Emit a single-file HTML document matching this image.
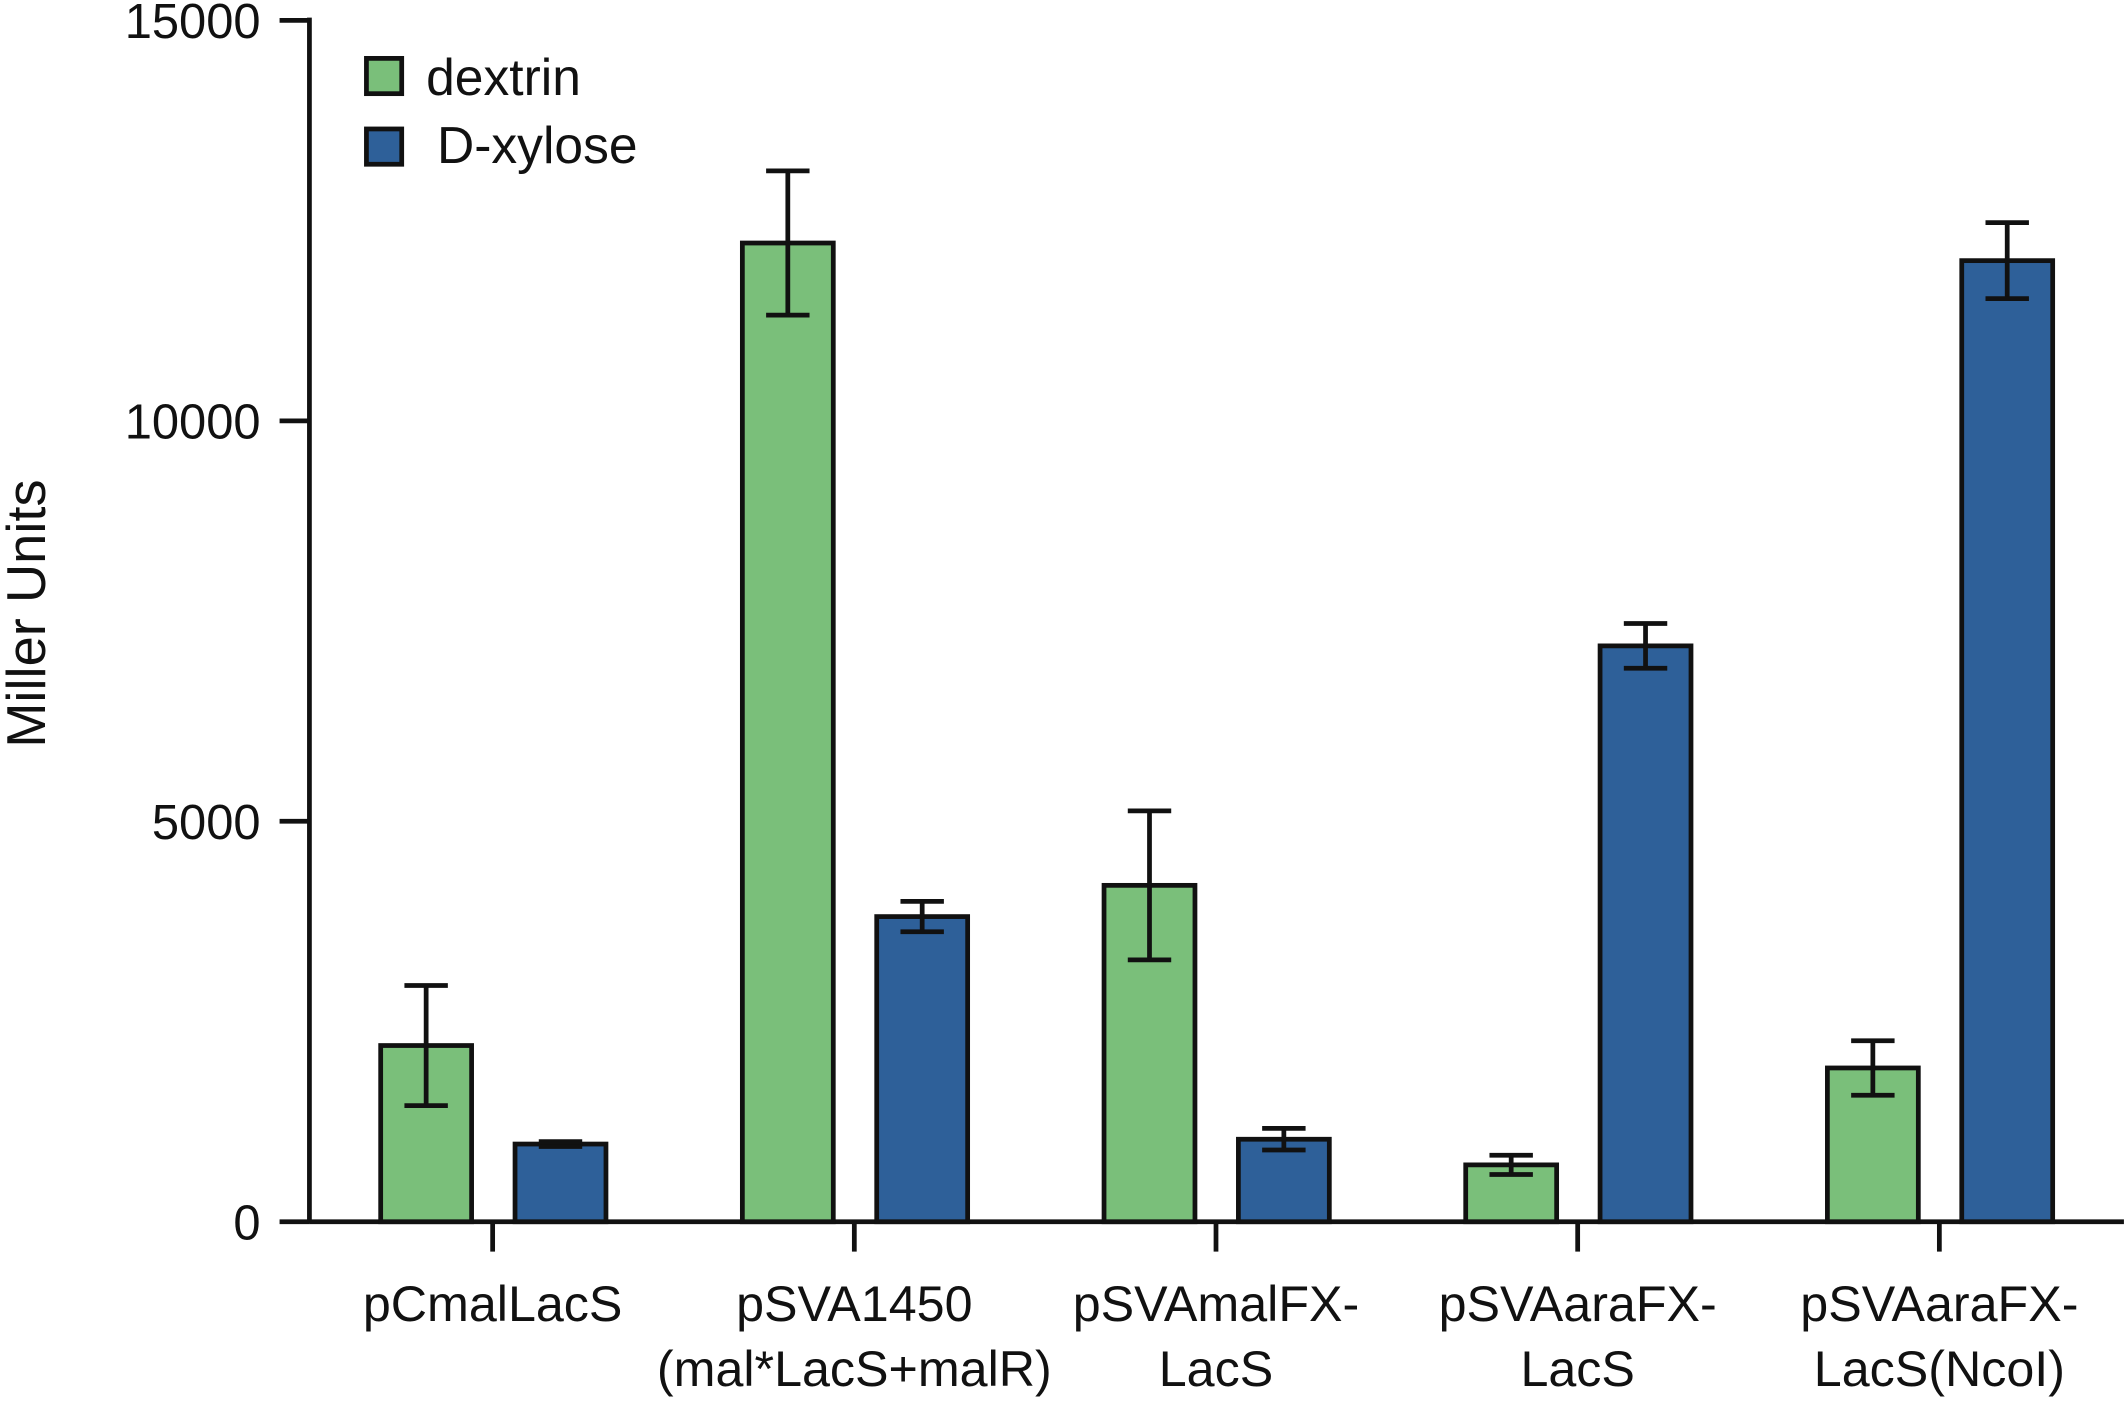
<!DOCTYPE html>
<html><head><meta charset="utf-8"><style>
html,body{margin:0;padding:0;background:#fff;}
svg{display:block;font-family:"Liberation Sans",sans-serif;}
</style></head><body>
<svg id="chart" width="2128" height="1405" viewBox="0 0 1568 1035" preserveAspectRatio="none" xmlns="http://www.w3.org/2000/svg">
<g id="axes"></g>
<g id="bars"></g>
<g id="legend">
 <rect x="270" y="43" width="26" height="26" fill="#7abf7a" stroke="#111" stroke-width="3.5"/>
 <text x="314" y="70" font-size="38" fill="#111">dextrin</text>
 <rect x="270" y="95" width="26" height="26" fill="#2e6099" stroke="#111" stroke-width="3.5"/>
 <text x="322" y="120" font-size="38" fill="#111">D-xylose</text>
</g>
<text transform="translate(33,452) rotate(-90)" text-anchor="middle" font-size="40" fill="#111">Miller Units</text>
</svg>
<script>
const categories=[["pCmalLacS"],["pSVA1450","(mal*LacS+malR)"],["pSVAmalFX-","LacS"],["pSVAaraFX-","LacS"],["pSVAaraFX-","LacS(NcoI)"]];
const dextrin=[2200,12220,4200,710,1920];
const dextrinErr=[750,900,930,120,340];
const xylose=[970,3810,1030,7190,12000];
const xyloseErr=[30,190,135,280,475];
const yTicks=[0,5000,10000,15000];
const NS="http://www.w3.org/2000/svg";
const x0=228,x1=1565,y0=900,yTop=15;
const y=v=>y0-(v/15000)*(y0-yTop);
const cx=i=>363+i*266.5;
function mk(tag,attrs,parent){const e=document.createElementNS(NS,tag);for(const k in attrs)e.setAttribute(k,attrs[k]);parent.appendChild(e);return e;}
const axes=document.getElementById('axes'),bars=document.getElementById('bars');
let ln=mk('line',{x1:x0,y1:yTop-2,x2:x0,y2:y0+1,stroke:'#111','stroke-width':3.5},axes);


ln=mk('line',{x1:x0,y1:y0,x2:x1,y2:y0,stroke:'#111','stroke-width':3.5},axes);


yTicks.forEach(t=>{
 const tk=mk('line',{x1:x0-22,y1:y(t),x2:x0,y2:y(t),stroke:'#111','stroke-width':3.5},axes);
 
 
 const tx=mk('text',{x:x0-36,y:y(t)+13,'text-anchor':'end','font-size':36,fill:'#111'},axes);
 tx.textContent=t;
 
 
});
categories.forEach((c,i)=>{
 const tk=mk('line',{x1:cx(i),y1:y0,x2:cx(i),y2:y0+22,stroke:'#111','stroke-width':3.5},axes);
 
 
 c.forEach((s,j)=>{
  const tx=mk('text',{x:cx(i),y:973+j*48,'text-anchor':'middle','font-size':37,fill:'#111'},axes);
  tx.textContent=s;
  
  
 });
});
function bar(xc,v,e,fill,name){
 const w=67;
 const r=mk('rect',{x:xc-w/2,y:y(v),width:w,height:y0-y(v),fill:fill,stroke:'#111','stroke-width':3.5},bars);
 
 
 const g=mk('g',{stroke:'#111','stroke-width':3.5},bars);
 
 
 mk('line',{x1:xc,y1:y(v+e),x2:xc,y2:y(v-e)},g);
 mk('line',{x1:xc-16,y1:y(v+e),x2:xc+16,y2:y(v+e)},g);
 mk('line',{x1:xc-16,y1:y(v-e),x2:xc+16,y2:y(v-e)},g);
}
categories.forEach((c,i)=>{
 bar(cx(i)-49,dextrin[i],dextrinErr[i],'#7abf7a','bar-dextrin');
 bar(cx(i)+50,xylose[i],xyloseErr[i],'#2e6099','bar-dxylose');
});
</script>
</body></html>
